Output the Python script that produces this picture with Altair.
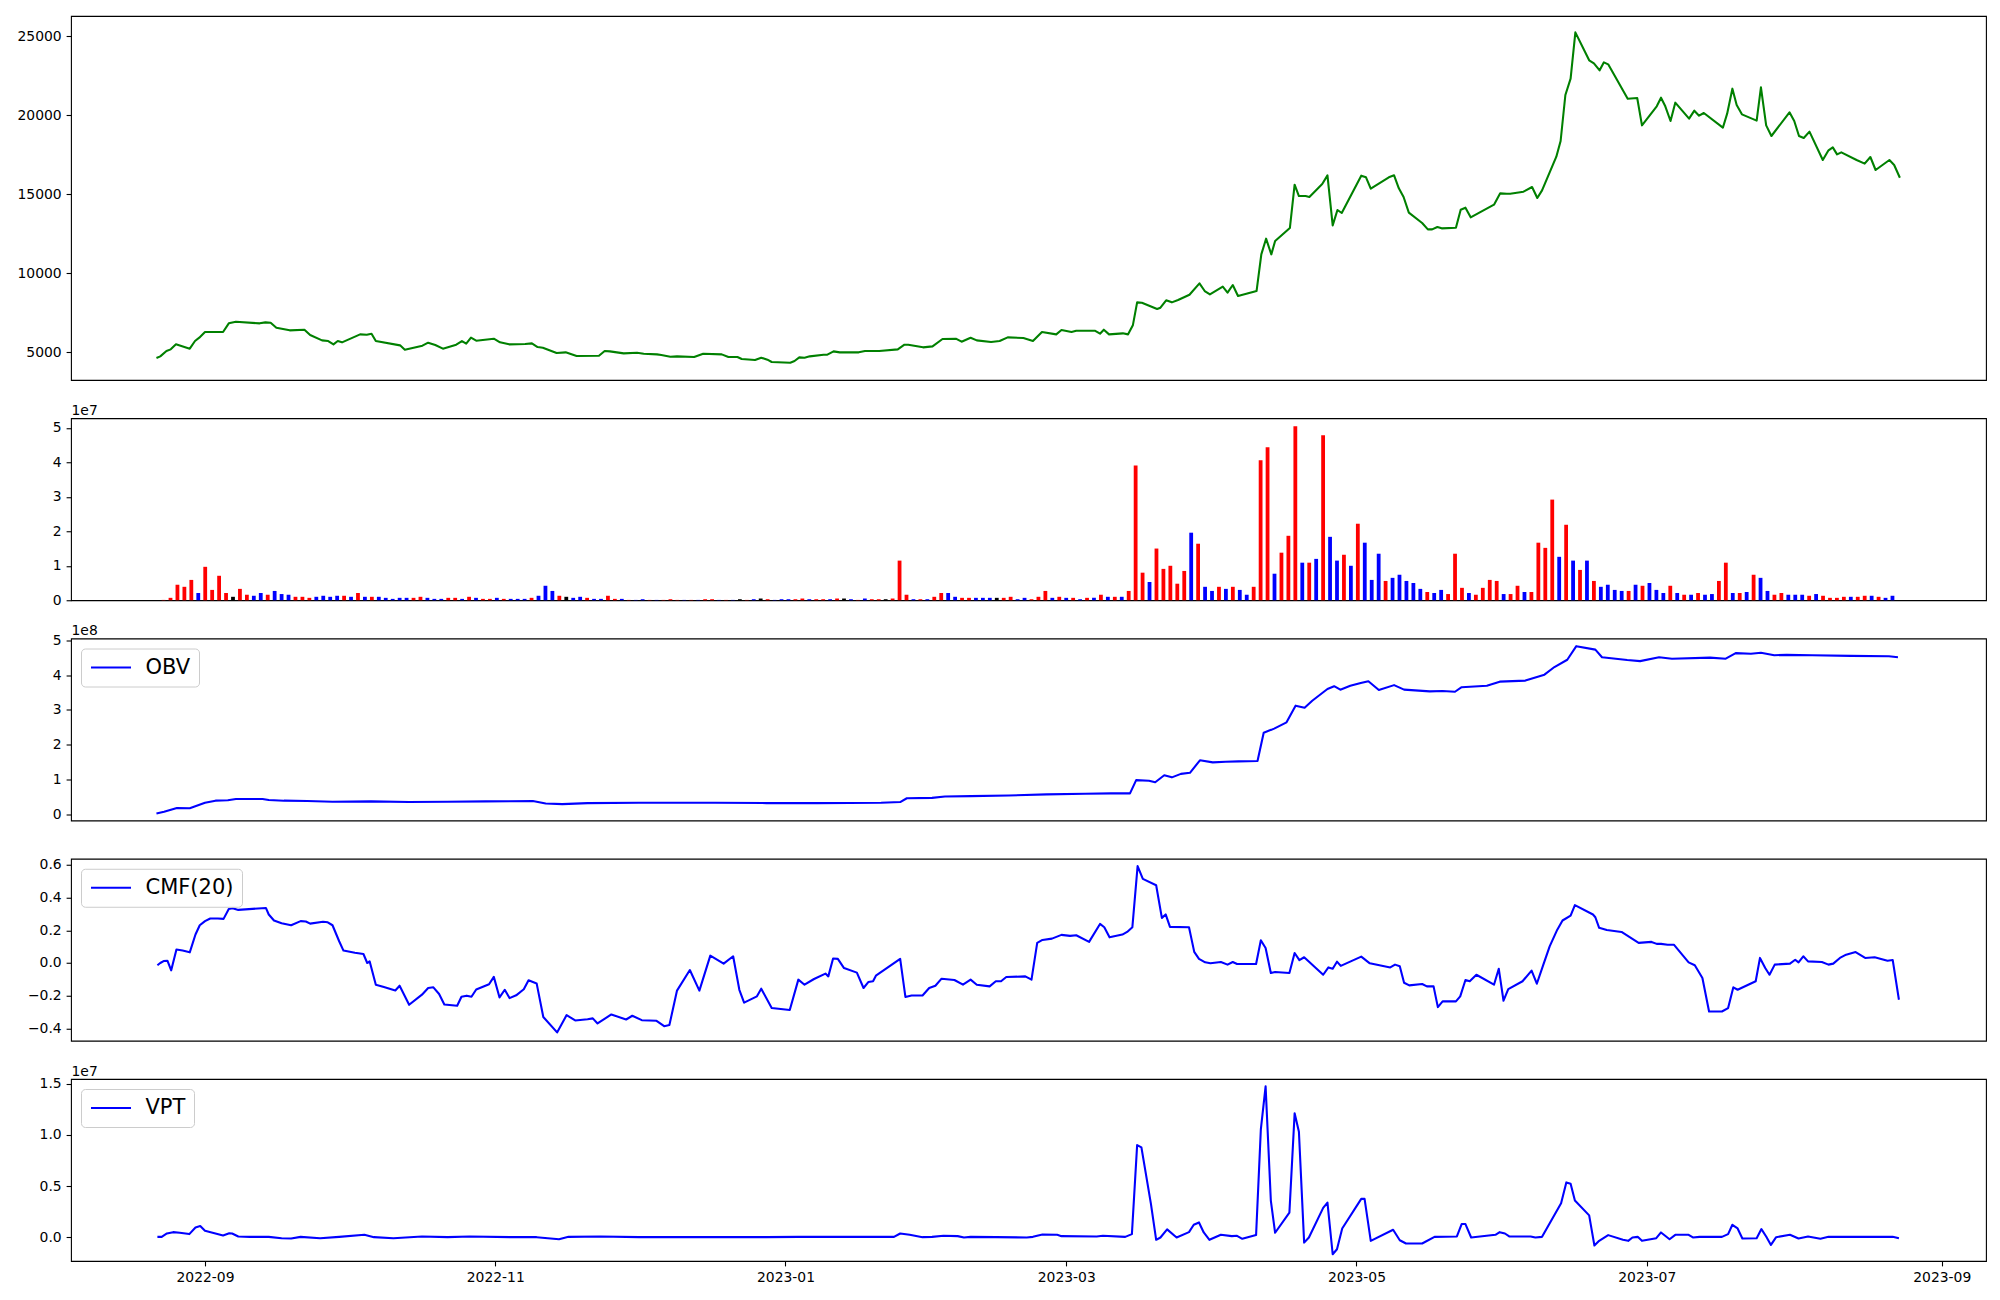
import altair as alt
import pandas as pd

# ---------------- data ----------------
BASE_DATE = "2022-09-01"   # x values below are days relative to this date

price_day = [
    -10.2, -9.4, -8.1, -7.2, -6.1, -3.2, -2.1, -1.2, 0.0, 3.8,
    5.0, 6.5, 11.5, 12.7, 13.8, 15.0, 17.8, 20.9, 22.1, 24.6,
    25.9, 27.0, 27.9, 28.8, 32.6, 34.0, 35.0, 35.9, 41.0, 42.0,
    45.7, 46.9, 48.4, 50.0, 52.8, 54.0, 54.9, 55.9, 57.0, 60.7,
    62.0, 63.9, 67.3, 68.7, 69.9, 71.0, 73.9, 75.8, 78.1, 82.8,
    84.0, 85.1, 88.0, 90.8, 92.2, 95.0, 95.9, 97.8, 99.2, 102.8,
    104.7, 108.6, 110.0, 111.9, 112.8, 115.6, 116.9, 118.2, 119.1, 123.0,
    123.9, 124.9, 126.0, 127.1, 130.0, 130.8, 132.1, 133.4, 137.4, 138.7,
    141.7, 145.6, 147.0, 147.8, 150.9, 152.9, 155.0, 157.8, 159.0, 160.9,
    162.2, 165.2, 167.0, 168.7, 172.0, 174.0, 175.9, 178.9, 180.0, 182.1,
    183.1, 187.0, 188.1, 188.9, 190.0, 192.9, 194.0, 195.0, 195.9, 196.9,
    200.1, 200.8, 202.0, 203.2, 204.5, 206.9, 209.0, 210.1, 211.2, 213.9,
    214.9, 216.0, 217.1, 221.0, 222.0, 223.0, 224.1, 224.9, 228.0, 229.0,
    229.9, 231.3, 232.1, 234.8, 235.9, 237.0, 238.0, 238.9, 243.0, 244.0,
    245.0, 248.8, 249.9, 250.9, 251.9, 253.0, 255.8, 257.0, 257.9, 259.0,
    259.9, 262.9, 263.9, 264.9, 266.0, 270.9, 272.2, 273.6, 274.3, 277.1,
    278.9, 280.0, 281.0, 284.0, 284.9, 285.9, 287.0, 288.0, 290.9, 291.9,
    293.1, 294.0, 294.9, 299.0, 301.0, 302.0, 305.1, 306.0, 306.9, 308.0,
    309.0, 311.9, 313.0, 314.0, 315.0, 319.0, 319.9, 321.0, 321.9, 323.0,
    326.1, 327.0, 328.1, 329.2, 333.0, 334.0, 335.0, 336.0, 337.2, 340.0,
    341.2, 342.1, 343.0, 343.9, 347.1, 348.8, 350.0, 351.1, 354.0, 355.0,
    356.2,
]
price_close = [
    4641, 4747, 5084, 5190, 5506, 5232, 5717, 5928, 6287, 6287,
    6836, 6941, 6836, 6899, 6878, 6561, 6393, 6435, 6097, 5760,
    5717, 5506, 5717, 5633, 6139, 6118, 6182, 5717, 5443, 5169,
    5422, 5612, 5464, 5232, 5485, 5717, 5549, 5928, 5739, 5865,
    5633, 5506, 5528, 5570, 5338, 5295, 4958, 5000, 4768, 4789,
    5084, 5063, 4937, 4979, 4916, 4873, 4831, 4726, 4747, 4705,
    4916, 4873, 4705, 4705, 4578, 4515, 4662, 4536, 4388, 4346,
    4451, 4683, 4662, 4747, 4852, 4852, 5063, 5000, 5000, 5084,
    5084, 5190, 5485, 5485, 5317, 5380, 5844, 5865, 5675, 5928,
    5760, 5654, 5717, 5950, 5907, 5717, 6287, 6139, 6414, 6287,
    6372, 6372, 6182, 6435, 6139, 6203, 6139, 6709, 8165, 8144,
    7743, 7827, 8292, 8165, 8313, 8650, 9368, 8882, 8671, 9157,
    8777, 9262, 8566, 8882, 11203, 12195, 11203, 12047, 12870, 15613,
    14896, 14896, 14833, 15656, 16204, 13039, 14010, 13820, 16183, 16078,
    15360, 16078, 16204, 15381, 14833, 13841, 13187, 12786, 12786, 12934,
    12849, 12891, 14031, 14157, 13546, 14347, 15065, 15044, 15044, 15170,
    15466, 14769, 15255, 17386, 18377, 21289, 22323, 25256, 23484, 23294,
    22851, 23357, 23230, 21057, 21099, 19369, 20572, 21120, 20572, 19643,
    20804, 19791, 20298, 19981, 20150, 19221, 20108, 21690, 20656, 20065,
    19665, 21775, 19369, 18694, 20192, 19643, 18694, 18567, 18968, 17175,
    17787, 17977, 17534, 17660, 17175, 16943, 17365, 16542, 17175, 16858,
    16054,
]

# volume bars (units of 1e7), one per trading session, evenly spaced
volume_1e7 = [
    0.01, 0.07, 0.45, 0.39, 0.59, 0.21, 0.97, 0.30, 0.71, 0.21,
    0.10, 0.33, 0.16, 0.13, 0.21, 0.16, 0.27, 0.18, 0.16, 0.10,
    0.10, 0.07, 0.10, 0.13, 0.10, 0.13, 0.13, 0.10, 0.21, 0.10,
    0.10, 0.10, 0.07, 0.04, 0.07, 0.07, 0.07, 0.10, 0.07, 0.04,
    0.04, 0.07, 0.07, 0.04, 0.10, 0.07, 0.04, 0.04, 0.07, 0.04,
    0.04, 0.04, 0.04, 0.07, 0.13, 0.42, 0.27, 0.13, 0.10, 0.07,
    0.10, 0.07, 0.04, 0.04, 0.13, 0.04, 0.04, 0.01, 0.01, 0.03,
    0.01, 0.01, 0.01, 0.03, 0.01, 0.01, 0.01, 0.01, 0.03, 0.03,
    0.01, 0.01, 0.01, 0.03, 0.01, 0.03, 0.05, 0.03, 0.01, 0.03,
    0.03, 0.03, 0.05, 0.03, 0.03, 0.03, 0.03, 0.05, 0.05, 0.03,
    0.01, 0.05, 0.03, 0.03, 0.03, 0.05, 1.15, 0.16, 0.03, 0.03,
    0.03, 0.10, 0.21, 0.21, 0.10, 0.07, 0.07, 0.07, 0.07, 0.07,
    0.07, 0.07, 0.10, 0.03, 0.07, 0.03, 0.10, 0.27, 0.07, 0.10,
    0.07, 0.07, 0.03, 0.07, 0.07, 0.16, 0.10, 0.10, 0.10, 0.27,
    3.91, 0.80, 0.53, 1.50, 0.91, 1.00, 0.48, 0.85, 1.96, 1.64,
    0.39, 0.27, 0.39, 0.33, 0.39, 0.30, 0.16, 0.39, 4.06, 4.44,
    0.77, 1.38, 1.87, 5.05, 1.09, 1.09, 1.20, 4.79, 1.84, 1.15,
    1.32, 1.00, 2.22, 1.67, 0.59, 1.35, 0.56, 0.65, 0.74, 0.56,
    0.50, 0.33, 0.24, 0.21, 0.30, 0.18, 1.35, 0.36, 0.21, 0.16,
    0.36, 0.59, 0.56, 0.18, 0.18, 0.42, 0.24, 0.24, 1.67, 1.52,
    2.92, 1.26, 2.19, 1.15, 0.88, 1.15, 0.56, 0.39, 0.45, 0.30,
    0.27, 0.27, 0.45, 0.42, 0.50, 0.30, 0.21, 0.42, 0.21, 0.16,
    0.16, 0.21, 0.16, 0.18, 0.56, 1.09, 0.21, 0.21, 0.24, 0.74,
    0.65, 0.27, 0.16, 0.21, 0.16, 0.16, 0.16, 0.13, 0.18, 0.13,
    0.07, 0.07, 0.10, 0.10, 0.10, 0.13, 0.13, 0.10, 0.07, 0.13,
]
# r = up day, b = down day, k = unchanged
volume_dir = list(
    "rrrrrbrrrr" "krrbbrbbbr" "rrbbbbrbrb" "rbbbbbrrbb" "brrbrbrrbr"
    "bbbrbbbrkb" "brbbrrbrbb" "rbrrrbrbrr" "brbkrbkrbb" "brrbrrbrkb"
    "rbrrkrrrbr" "brrbbrrbbb" "krrbbrrrbr" "brbrbrbrbr" "rrbrrrrrbr"
    "bbrbrbbrrr" "brrrbrbrbb" "rbrbbbrbbb" "bbrbbrrrbr" "rrrbrrbrrr"
    "rbrbrbrbbb" "brbrbbbrbr" "brbbrrbrbr" "bbrrbbbrbr" "rrrbrrbrbb"
)

obv_day = [
    -10.2, -8.6, -5.9, -3.2, 0.0, 2.2, 4.8, 6.5, 12.1, 13.4,
    16.6, 21.5, 26.8, 34.9, 42.9, 50.9, 59.0, 68.9, 71.6, 75.1,
    80.4, 91.2, 107.2, 118.0, 128.7, 142.1, 146.1, 147.5, 152.8, 155.5,
    160.9, 168.9, 176.9, 185.0, 190.4, 194.4, 195.7, 198.4, 199.7, 201.6,
    203.2, 205.1, 207.0, 209.1, 211.8, 214.5, 217.2, 221.2, 222.5, 224.7,
    227.3, 229.2, 231.1, 232.7, 235.9, 237.3, 238.6, 240.7, 242.9, 244.5,
    246.7, 249.9, 252.0, 257.4, 260.1, 262.7, 264.1, 269.4, 272.1, 277.5,
    281.5, 283.6, 286.3, 288.2, 292.2, 293.6, 298.9, 301.6, 305.6, 308.3,
    316.3, 319.6, 321.7, 324.9, 327.0, 329.8, 332.4, 337.8, 345.8, 353.9,
    355.8,
]
obv_1e8 = [
    0.02, 0.07, 0.18, 0.17, 0.33, 0.39, 0.40, 0.44, 0.44, 0.41,
    0.39, 0.38, 0.36, 0.37, 0.35, 0.36, 0.37, 0.38, 0.31, 0.29,
    0.32, 0.33, 0.33, 0.32, 0.32, 0.33, 0.35, 0.46, 0.47, 0.51,
    0.52, 0.54, 0.57, 0.59, 0.60, 0.60, 0.98, 0.96, 0.92, 1.12,
    1.06, 1.16, 1.19, 1.55, 1.49, 1.51, 1.52, 1.53, 2.34, 2.46,
    2.64, 3.12, 3.06, 3.26, 3.60, 3.68, 3.58, 3.69, 3.77, 3.82,
    3.57, 3.71, 3.58, 3.53, 3.54, 3.52, 3.65, 3.69, 3.81, 3.84,
    4.01, 4.23, 4.44, 4.83, 4.73, 4.51, 4.43, 4.40, 4.51, 4.47,
    4.50, 4.47, 4.63, 4.61, 4.64, 4.57, 4.58, 4.57, 4.55, 4.54,
    4.51,
]

cmf_day = [
    -10.0, -9.4, -8.7, -7.9, -7.1, -6.0, -4.7, -3.2, -2.0, -1.1,
    0.0, 1.1, 2.7, 3.9, 5.0, 5.8, 7.0, 12.8, 13.4, 14.5,
    16.1, 18.1, 20.1, 21.2, 22.1, 24.8, 25.8, 26.8, 28.2, 29.1,
    31.5, 33.3, 34.1, 34.6, 35.9, 37.6, 40.0, 40.9, 42.9, 45.6,
    46.9, 48.0, 49.2, 50.3, 53.0, 53.9, 55.0, 56.0, 57.0, 59.7,
    60.7, 61.9, 63.0, 64.0, 65.4, 67.0, 68.0, 69.7, 71.1, 74.0,
    76.0, 77.8, 80.4, 81.5, 82.5, 85.4, 88.5, 89.8, 91.8, 94.9,
    96.5, 97.6, 99.2, 101.9, 103.9, 106.2, 109.0, 111.0, 112.3, 113.3,
    116.0, 116.9, 119.1, 122.9, 124.7, 126.0, 128.0, 130.4, 131.0, 132.0,
    133.0, 134.3, 137.0, 138.4, 139.4, 140.4, 141.0, 146.1, 147.2, 148.5,
    150.8, 152.2, 153.5, 154.8, 157.5, 159.3, 160.9, 162.2, 164.9, 166.2,
    167.3, 168.4, 172.4, 173.7, 174.9, 176.0, 178.0, 180.0, 181.8, 183.1,
    185.8, 188.1, 189.0, 190.1, 192.8, 193.8, 194.9, 196.0, 197.1, 199.9,
    201.1, 201.9, 202.8, 206.8, 207.9, 208.9, 210.2, 211.3, 213.5, 214.9,
    216.0, 216.9, 220.9, 221.9, 222.9, 224.0, 224.9, 227.9, 229.0, 230.0,
    231.0, 235.0, 236.1, 237.0, 237.9, 238.7, 243.0, 244.8, 249.1, 250.1,
    251.1, 252.0, 253.1, 255.8, 256.8, 258.2, 259.1, 260.1, 262.9, 263.8,
    264.9, 265.8, 267.2, 270.9, 271.9, 272.9, 273.9, 276.9, 278.8, 279.9,
    281.2, 282.6, 284.2, 285.3, 287.0, 287.9, 291.7, 292.2, 293.0, 294.6,
    297.7, 301.3, 304.0, 305.1, 306.0, 307.4, 308.7, 311.8, 313.1, 314.7,
    316.1, 318.8, 320.1, 321.2, 322.1, 325.9, 326.8, 327.9, 328.8, 329.9,
    333.1, 334.2, 334.9, 335.9, 336.9, 339.8, 341.2, 342.2, 343.6, 344.9,
    346.9, 348.9, 350.9, 353.6, 354.7, 356.0,
]
cmf_20 = [
    -0.014, 0.000, 0.012, 0.014, -0.045, 0.082, 0.076, 0.065, 0.174, 0.231,
    0.256, 0.272, 0.272, 0.270, 0.331, 0.335, 0.325, 0.337, 0.297, 0.260,
    0.243, 0.231, 0.256, 0.254, 0.241, 0.252, 0.249, 0.231, 0.133, 0.076,
    0.063, 0.055, 0.000, 0.010, -0.133, -0.147, -0.168, -0.139, -0.256, -0.194,
    -0.153, -0.149, -0.190, -0.254, -0.262, -0.207, -0.200, -0.207, -0.162, -0.130,
    -0.085, -0.211, -0.164, -0.215, -0.198, -0.161, -0.106, -0.125, -0.331, -0.425,
    -0.319, -0.352, -0.344, -0.339, -0.370, -0.315, -0.346, -0.323, -0.350, -0.354,
    -0.387, -0.380, -0.169, -0.043, -0.169, 0.045, -0.004, 0.041, -0.164, -0.243,
    -0.204, -0.157, -0.276, -0.288, -0.102, -0.133, -0.098, -0.065, -0.082, 0.027,
    0.025, -0.031, -0.059, -0.153, -0.117, -0.112, -0.078, 0.025, -0.208, -0.199,
    -0.199, -0.153, -0.139, -0.096, -0.104, -0.133, -0.102, -0.133, -0.143, -0.112,
    -0.112, -0.086, -0.082, -0.102, 0.123, 0.141, 0.149, 0.172, 0.166, 0.170,
    0.129, 0.239, 0.219, 0.157, 0.174, 0.190, 0.219, 0.593, 0.515, 0.476,
    0.276, 0.297, 0.221, 0.219, 0.068, 0.025, 0.004, -0.002, 0.006, -0.010,
    0.006, -0.006, -0.006, 0.139, 0.092, -0.061, -0.055, -0.061, 0.061, 0.018,
    0.035, -0.072, -0.027, -0.035, 0.008, -0.018, 0.039, -0.002, -0.027, -0.010,
    -0.020, -0.121, -0.137, -0.129, -0.143, -0.143, -0.270, -0.235, -0.235, -0.204,
    -0.104, -0.112, -0.072, -0.133, -0.035, -0.231, -0.160, -0.112, -0.047, -0.127,
    -0.016, 0.102, 0.204, 0.260, 0.290, 0.354, 0.297, 0.280, 0.215, 0.202,
    0.190, 0.123, 0.129, 0.117, 0.117, 0.112, 0.112, 0.004, -0.014, -0.092,
    -0.297, -0.297, -0.276, -0.149, -0.164, -0.112, 0.031, -0.031, -0.072, -0.010,
    -0.004, 0.020, 0.004, 0.041, 0.010, 0.006, -0.010, -0.004, 0.031, 0.051,
    0.067, 0.031, 0.035, 0.014, 0.018, -0.225,
]

vpt_day = [
    -10.0, -9.1, -8.0, -6.7, -5.3, -3.3, -2.0, -1.0, 0.0, 2.0,
    3.8, 5.1, 5.7, 7.0, 9.4, 13.4, 16.1, 18.1, 20.1, 24.2,
    28.2, 33.5, 35.5, 39.6, 45.6, 51.0, 55.6, 64.4, 69.7, 74.4,
    76.4, 83.1, 91.2, 118.0, 124.7, 144.8, 146.1, 148.1, 150.8, 152.8,
    155.2, 158.2, 159.5, 160.9, 166.2, 172.7, 174.0, 176.0, 179.1, 180.0,
    187.4, 188.7, 193.4, 194.8, 195.9, 196.8, 198.8, 199.9, 200.8, 202.2,
    204.2, 206.8, 207.8, 208.9, 209.9, 211.1, 213.5, 215.8, 216.9, 218.0,
    220.9, 221.9, 222.9, 224.0, 224.9, 227.9, 229.0, 229.9, 231.0, 232.0,
    235.0, 235.9, 237.0, 237.9, 239.0, 243.0, 243.7, 245.0, 249.7, 251.1,
    252.4, 255.8, 258.4, 263.1, 264.1, 264.9, 266.1, 271.2, 272.1, 273.2,
    274.1, 278.6, 279.6, 281.0, 285.0, 286.1, 287.0, 287.9, 290.9, 292.0,
    293.0, 294.9, 298.0, 299.1, 300.0, 301.1, 302.0, 305.0, 306.0, 307.8,
    309.0, 311.8, 312.7, 314.1, 318.8, 320.1, 321.0, 322.1, 323.1, 326.1,
    327.1, 328.1, 329.1, 330.2, 333.1, 334.9, 336.9, 339.5, 341.2, 350.9,
    354.7, 356.0,
]
vpt_1e7 = [
    0.003, 0.003, 0.036, 0.049, 0.043, 0.030, 0.095, 0.108, 0.062, 0.039,
    0.016, 0.039, 0.036, 0.007, 0.003, 0.003, -0.010, -0.013, 0.003, -0.010,
    0.003, 0.023, 0.000, -0.010, 0.007, 0.000, 0.007, 0.000, 0.000, -0.020,
    0.003, 0.007, 0.000, 0.000, 0.003, 0.003, 0.036, 0.023, 0.000, 0.003,
    0.013, 0.010, -0.003, 0.003, 0.000, -0.003, 0.003, 0.026, 0.023, 0.010,
    0.007, 0.013, 0.003, 0.030, 0.900, 0.877, 0.325, -0.026, -0.003, 0.076,
    -0.003, 0.049, 0.121, 0.144, 0.046, -0.026, 0.023, 0.010, 0.013, -0.016,
    0.020, 1.054, 1.474, 0.358, 0.043, 0.240, 1.211, 1.031, -0.053, -0.003,
    0.286, 0.338, -0.167, -0.118, 0.085, 0.374, 0.374, -0.036, 0.072, -0.030,
    -0.062, -0.062, 0.003, 0.007, 0.128, 0.128, -0.003, 0.023, 0.049, 0.036,
    0.007, 0.007, -0.003, 0.003, 0.332, 0.535, 0.522, 0.358, 0.213, -0.082,
    -0.036, 0.020, -0.026, -0.036, -0.003, 0.003, -0.036, -0.010, 0.046, -0.020,
    0.023, 0.023, -0.003, 0.003, 0.003, 0.030, 0.121, 0.085, -0.013, -0.010,
    0.079, 0.007, -0.076, 0.000, 0.023, -0.013, 0.007, -0.016, 0.003, 0.003,
    0.003, -0.010,
]

x_tick_months = [(2022, 9), (2022, 11), (2023, 1), (2023, 3), (2023, 5), (2023, 7), (2023, 9)]

# ---------------- styling ----------------
FONT = "DejaVu Sans"
W = 1915
DIR_COLORS = {"r": "#ff0000", "b": "#0000ff", "k": "#000000"}


def to_dates(days):
    return pd.Timestamp(BASE_DATE) + pd.to_timedelta(pd.Series(days), unit="D")


x_scale = alt.Scale(
    domain=[alt.DateTime(year=2022, month=8, date=3, hours=20, minutes=10),
            alt.DateTime(year=2023, month=9, date=10, hours=7, minutes=12)],
    nice=False,
)
x_axis_bottom = alt.Axis(
    values=[alt.DateTime(year=y, month=m, date=1) for y, m in x_tick_months],
    format="%Y-%m", title=None, grid=False, domain=False, labelAngle=0,
    labelFont=FONT, labelFontSize=13.9, labelColor="black", labelFlush=False,
    labelOverlap=False, tickColor="black", tickSize=4.9, tickWidth=1.1, labelPadding=4.9,
)


def yaxis(values, fmt, offset_text=None):
    extra = {}
    if offset_text:
        extra = dict(title=offset_text, titleAngle=0, titleAlign="left",
                     titleBaseline="alphabetic", titleX=0, titleY=-4,
                     titleFont=FONT, titleFontSize=13.9, titleFontWeight="normal",
                     titleColor="black")
    else:
        extra = dict(title=None)
    return alt.Axis(values=values, format=fmt, grid=False, domain=False,
                    labelFont=FONT, labelFontSize=13.9, labelColor="black",
                    labelFlush=False, labelOverlap=False,
                    tickColor="black", tickSize=4.9, tickWidth=1.1, labelPadding=4.9,
                    **extra)


def legend():
    return alt.Legend(title=None, orient="top-left", offset=10, padding=8.5,
                      strokeColor="#cccccc", fillColor="white", cornerRadius=4,
                      symbolType="stroke", symbolSize=1600, symbolStrokeWidth=2.08,
                      clipHeight=21,
                      labelFont=FONT, labelFontSize=21, labelColor="black", labelOffset=13)


# ---------------- panel 1: price ----------------
price_df = pd.DataFrame({"date": to_dates(price_day), "close": price_close})
p1 = alt.Chart(price_df).mark_line(color="#008000", strokeWidth=2.08, strokeJoin="round").encode(
    x=alt.X("date:T", scale=x_scale, axis=None),
    y=alt.Y("close:Q", scale=alt.Scale(domain=[3250, 26290], nice=False, zero=False),
            axis=yaxis([5000, 10000, 15000, 20000, 25000], "d")),
).properties(width=W, height=364)

# ---------------- panel 2: volume ----------------
vol_df = pd.DataFrame({
    "idx": list(range(len(volume_1e7))),
    "volume": volume_1e7,
    "color": [DIR_COLORS[c] for c in volume_dir],
})
p2 = alt.Chart(vol_df).mark_bar(size=3.8).encode(
    x=alt.X("idx:Q", scale=alt.Scale(domain=[-12.61, 261.75], nice=False, zero=False), axis=None),
    y=alt.Y("volume:Q", scale=alt.Scale(domain=[0, 5.28], nice=False),
            axis=yaxis([0, 1, 2, 3, 4, 5], "d", "1e7")),
    color=alt.Color("color:N", scale=None),
).properties(width=W, height=182)


def indicator(days, values, name, domain, ticks, fmt, offset_text=None, x_axis=None):
    df = pd.DataFrame({"date": to_dates(days), "value": values, "series": name})
    return alt.Chart(df).mark_line(strokeWidth=2.08, strokeJoin="round").encode(
        x=alt.X("date:T", scale=x_scale, axis=x_axis),
        y=alt.Y("value:Q", scale=alt.Scale(domain=domain, nice=False, zero=False),
                axis=yaxis(ticks, fmt, offset_text)),
        color=alt.Color("series:N", scale=alt.Scale(domain=[name], range=["#0000ff"]),
                        legend=legend()),
    ).properties(width=W, height=182)


p3 = indicator(obv_day, obv_1e8, "OBV", [-0.18, 5.05], [0, 1, 2, 3, 4, 5], "d", "1e8")
p4 = indicator(cmf_day, cmf_20, "CMF(20)", [-0.476, 0.638],
               [-0.4, -0.2, 0.0, 0.2, 0.4, 0.6], ".1f")
p5 = indicator(vpt_day, vpt_1e7, "VPT", [-0.233, 1.546], [0.0, 0.5, 1.0, 1.5], ".1f", "1e7",
               x_axis=x_axis_bottom)

chart = alt.vconcat(p1, p2, p3, p4, p5, spacing=38.25, bounds="flush").resolve_scale(
    color="independent", x="independent"
).properties(
    padding={"left": 8, "top": 7, "right": 5, "bottom": 5}
).configure(font=FONT).configure_view(stroke="black", strokeWidth=1.1)

chart.save("out.html", embed_options={"renderer": "svg", "actions": False})
